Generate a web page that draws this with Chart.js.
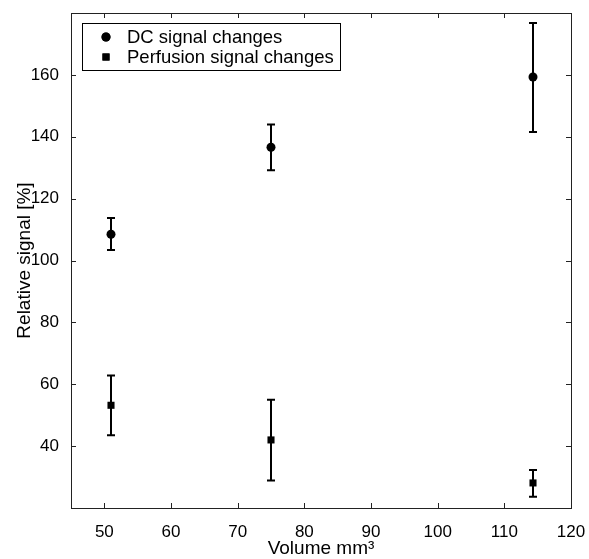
<!DOCTYPE html>
<html>
<head>
<meta charset="utf-8">
<script src="https://cdn.jsdelivr.net/npm/chart.js@4/dist/chart.umd.min.js"></script>
<style>
  html, body { margin: 0; padding: 0; background: #fff; }
  #wrap { width: 589px; height: 559px; }
</style>
</head>
<body>
<div id="wrap"><canvas id="volChart" width="589" height="559"></canvas></div>
<script>
const volumes = [51, 75, 114.3];
const dcMean = [108.5, 136.6, 159.3];
const dcLow = [103.4, 129.2, 141.5];
const dcHigh = [113.7, 144.0, 176.8];
const perfMean = [53.2, 42.0, 28.1];
const perfLow = [43.5, 28.9, 23.6];
const perfHigh = [62.8, 55.0, 32.3];
const xTicks = [50, 60, 70, 80, 90, 100, 110, 120];
const yTicks = [40, 60, 80, 100, 120, 140, 160];

const FONT = 'Liberation Sans, Arial, Helvetica, sans-serif';

function points(means) {
    return volumes.map((v, i) => ({ x: v, y: means[i] }));
}

// error bars, box frame with inward ticks, legend inside the plot
const matlabLook = {
    id: 'matlabLook',
    afterDatasetsDraw(chart) {
        const ctx = chart.ctx;
        const xs = chart.scales.x;
        const ys = chart.scales.y;
        const a = chart.chartArea;

        ctx.save();
        ctx.strokeStyle = '#000';
        ctx.lineWidth = 2;
        const bars = [[dcLow, dcHigh], [perfLow, perfHigh]];
        bars.forEach(([lo, hi]) => {
            volumes.forEach((v, i) => {
                const px = xs.getPixelForValue(v);
                const y1 = ys.getPixelForValue(lo[i]);
                const y2 = ys.getPixelForValue(hi[i]);
                ctx.beginPath();
                ctx.moveTo(px, y1); ctx.lineTo(px, y2);
                ctx.moveTo(px - 4, y1); ctx.lineTo(px + 4, y1);
                ctx.moveTo(px - 4, y2); ctx.lineTo(px + 4, y2);
                ctx.stroke();
            });
        });

        // frame
        ctx.lineWidth = 1;
        ctx.strokeStyle = '#222';
        ctx.strokeRect(Math.round(a.left) + 0.5, Math.round(a.top) + 0.5,
            Math.round(a.right - a.left), Math.round(a.bottom - a.top));

        // inward ticks on all four sides
        ctx.beginPath();
        xTicks.forEach(t => {
            const px = Math.round(xs.getPixelForValue(t)) + 0.5;
            ctx.moveTo(px, a.bottom); ctx.lineTo(px, a.bottom - 5);
            ctx.moveTo(px, a.top); ctx.lineTo(px, a.top + 5);
        });
        yTicks.forEach(t => {
            const py = Math.round(ys.getPixelForValue(t)) + 0.5;
            ctx.moveTo(a.left, py); ctx.lineTo(a.left + 5, py);
            ctx.moveTo(a.right, py); ctx.lineTo(a.right - 5, py);
        });
        ctx.stroke();

        // legend
        const lx = 82, ly = 23, lw = 258, lh = 47;
        ctx.fillStyle = '#fff';
        ctx.fillRect(lx, ly, lw, lh);
        ctx.strokeStyle = '#000';
        ctx.strokeRect(lx + 0.5, ly + 0.5, lw, lh);
        ctx.font = '18.5px ' + FONT;
        ctx.textBaseline = 'middle';
        ctx.fillStyle = '#000';
        chart.data.datasets.forEach((ds, i) => {
            const cy = ly + 14 + i * 20;
            Chart.helpers.drawPoint(ctx, {
                pointStyle: ds.pointStyle, radius: ds.pointRadius, borderWidth: 0
            }, 106, cy);
            ctx.fillStyle = '#000';
            ctx.fill();
            ctx.fillText(ds.label, 127, cy + 1);
        });
        ctx.restore();
    }
};

const ctx = document.getElementById('volChart').getContext('2d');
new Chart(ctx, {
    type: 'scatter',
    data: {
        datasets: [{
            label: 'DC signal changes',
            data: points(dcMean),
            pointStyle: 'circle',
            pointRadius: 4.5,
            backgroundColor: '#000',
            borderColor: '#000',
            borderWidth: 0
        }, {
            label: 'Perfusion signal changes',
            data: points(perfMean),
            pointStyle: 'rect',
            pointRadius: 5,
            backgroundColor: '#000',
            borderColor: '#000',
            borderWidth: 0
        }]
    },
    options: {
        responsive: false,
        animation: false,
        layout: { padding: { top: 13, right: 18, left: 0, bottom: 0 } },
        plugins: {
            legend: { display: false },
            tooltip: { enabled: false }
        },
        scales: {
            x: {
                type: 'linear',
                min: 45,
                max: 120,
                afterBuildTicks: s => { s.ticks = xTicks.map(v => ({ value: v })); },
                afterFit: s => { s.height = 51; s.paddingLeft = 0; s.paddingRight = 0; },
                grid: { display: false },
                border: { display: false },
                ticks: { color: '#000', font: { size: 17, family: FONT }, padding: 6, maxRotation: 0 },
                title: { display: true, text: 'Volume mm³', color: '#000', font: { size: 19, family: FONT }, padding: { top: 0, bottom: -1 } }
            },
            y: {
                type: 'linear',
                min: 20,
                max: 180,
                afterBuildTicks: s => { s.ticks = yTicks.map(v => ({ value: v })); },
                afterFit: s => { s.width = 71; s.paddingTop = 0; s.paddingBottom = 0; },
                grid: { display: false },
                border: { display: false },
                ticks: { color: '#000', font: { size: 17, family: FONT }, padding: 4 },
                title: { display: true, text: 'Relative signal [%]', color: '#000', font: { size: 19, family: FONT }, padding: { top: 13, bottom: 0 } }
            }
        }
    },
    plugins: [matlabLook]
});
</script>
</body>
</html>
